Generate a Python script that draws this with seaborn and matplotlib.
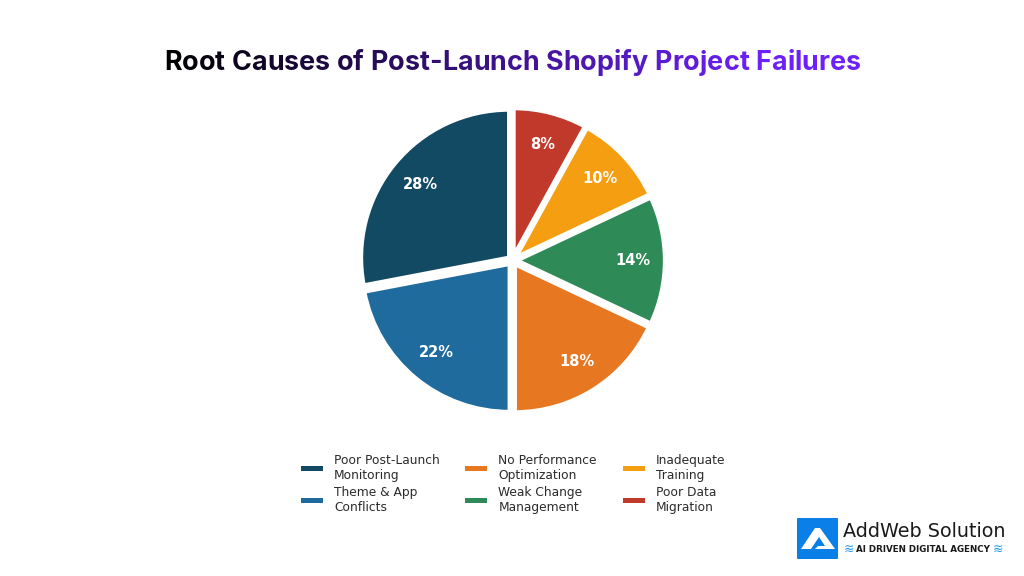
import matplotlib
matplotlib.use("Agg")
import matplotlib.pyplot as plt
from matplotlib.patches import Patch, Polygon, FancyBboxPatch
from matplotlib.colors import to_rgb
import seaborn as sns

# data
categories = ["Poor Post-Launch\nMonitoring", "Theme & App\nConflicts", "No Performance\nOptimization",
              "Weak Change\nManagement", "Inadequate\nTraining", "Poor Data\nMigration"]
shares = [28, 22, 18, 14, 10, 8]
colors = ["#134A63", "#1F6B9E", "#E87722", "#2E8B57", "#F59E12", "#C0392B"]
explode = [0.03] * 6
title = "Root Causes of Post-Launch Shopify Project Failures"

sns.set_theme(style="white")
plt.rcParams['font.family'] = ['DejaVu Sans']

W, H = 1024, 576
fig = plt.figure(figsize=(W / 100, H / 100), dpi=100, facecolor="white")

# --- pie ---
ax = fig.add_axes([(512.5 - 165) / W, 1 - (260.5 + 165) / H, 330 / W, 330 / H])
wedges, texts, pcts = ax.pie(
    shares, colors=colors, explode=explode, startangle=90, counterclock=True,
    radius=1.0, autopct="%d%%", pctdistance=0.78,
    wedgeprops={"edgecolor": "white", "linewidth": 3},
    textprops={"color": "white", "fontsize": 10.5, "fontweight": "bold"})
ax.set_xlim(-165 / 148, 165 / 148)
ax.set_ylim(-165 / 148, 165 / 148)
ax.set_aspect("equal")

# --- legend, filled column by column ---
handles = [Patch(facecolor=c, edgecolor="none") for c in colors]
legend = fig.legend(
    handles, categories,
    ncol=3, frameon=False, loc="center", bbox_to_anchor=(513 / W, 1 - 484 / H),
    handlelength=1.8, handleheight=0.3, columnspacing=2.1, labelspacing=0.32, handletextpad=0.9,
    labelcolor="#2b2b2b", prop={"family": "DejaVu Sans", "size": 8.8})
for t in legend.get_texts():
    t.set_linespacing(1.2)

# --- gradient title, one letter at a time ---
font = {"family": "Inter", "weight": "bold"}
renderer = fig.canvas.get_renderer()
x0, x1 = 164, 860
start, end = to_rgb("#000000"), to_rgb("#6D20FA")
probe = fig.text(0, 0, title, size=20, **font)
size = 20 * (x1 - x0) / probe.get_window_extent(renderer).width
probe.set_size(size)
full = probe.get_window_extent(renderer).width
probe.set_text("|")
bar = probe.get_window_extent(renderer).width
for i, ch in enumerate(title):
    probe.set_text(title[:i] + "|")
    off = probe.get_window_extent(renderer).width - bar
    f = min(1, off / full * 1.18)
    col = tuple(a + (b - a) * f for a, b in zip(start, end))
    fig.text((x0 + off * 1.005) / W, 1 - 70 / H, ch, color=col, ha="left", va="baseline", size=size, **font)
probe.remove()

# --- logo ---
logo = fig.add_axes([0, 0, 1, 1], facecolor="none", zorder=5)
logo.set_xlim(0, W)
logo.set_ylim(H, 0)
logo.axis("off")
logo.add_patch(FancyBboxPatch((797, 518), 41, 41, boxstyle="round,pad=0,rounding_size=1", fc="#0B7FE8", ec="none"))
logo.add_patch(Polygon([(801, 549), (815, 528), (820, 528), (835, 549)], fc="white", ec="none"))
logo.add_patch(Polygon([(811, 549), (819, 537), (825, 546), (818, 546), (815, 549)], fc="#0B7FE8", ec="none"))
logo.text(843, 537, "AddWeb Solution", fontsize=13.8, color="#1a1a1a", family="DejaVu Sans", va="baseline")
logo.text(856, 552, "AI DRIVEN DIGITAL AGENCY", fontsize=6.35, fontweight="bold", color="#1a1a1a", family="DejaVu Sans", va="baseline")
logo.text(844, 553, "≋", fontsize=9, color="#2E9BE6", family="DejaVu Sans", va="baseline")
logo.text(993, 553, "≋", fontsize=9, color="#2E9BE6", family="DejaVu Sans", va="baseline")

fig.savefig("out.png", dpi=100)
plt.close(fig)
